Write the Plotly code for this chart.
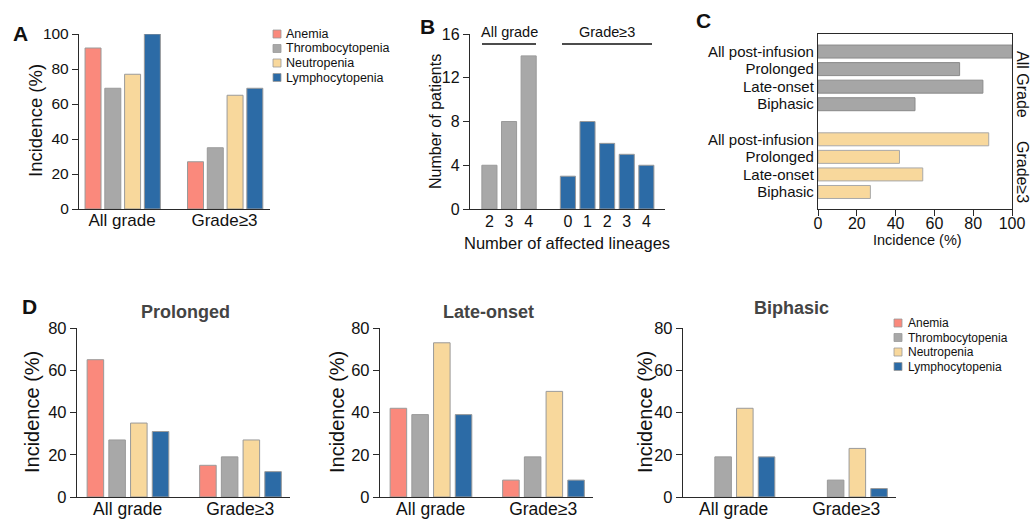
import plotly.graph_objects as go

# ---------------- data ----------------
cytopenias = ["Anemia", "Thrombocytopenia", "Neutropenia", "Lymphocytopenia"]
colors = ["#FA897C", "#A8A8A8", "#F8D89C", "#2C6BA6"]
grades = ["All grade", "Grade≥3"]

# Panel A: incidence (%) per cytopenia, [All grade, Grade>=3]
a_anemia = [92, 27]
a_thrombo = [69, 35]
a_neutro = [77, 65]
a_lympho = [100, 69]

# Panel B: number of patients by number of affected lineages
b_all_lineages = ["2", "3", "4"]
b_all_counts = [4, 8, 14]
b_g3_lineages = ["0", "1", "2", "3", "4"]
b_g3_counts = [3, 8, 6, 5, 4]

# Panel C: incidence (%) by pattern
c_labels = ["All post-infusion", "Prolonged", "Late-onset", "Biphasic"]
c_all = [100, 73, 85, 50]
c_g3 = [88, 42, 54, 27]

# Panel D: incidence (%) per pattern, [All grade, Grade>=3]
d_titles = ["Prolonged", "Late-onset", "Biphasic"]
d_prolonged = {"Anemia": [65, 15], "Thrombocytopenia": [27, 19],
               "Neutropenia": [35, 27], "Lymphocytopenia": [31, 12]}
d_late = {"Anemia": [42, 8], "Thrombocytopenia": [39, 19],
          "Neutropenia": [73, 50], "Lymphocytopenia": [39, 8]}
d_biphasic = {"Anemia": [0, 0], "Thrombocytopenia": [19, 8],
              "Neutropenia": [42, 23], "Lymphocytopenia": [19, 4]}

# ---------------- layout helpers ----------------
W, H = 1033, 519
FONT = "Liberation Sans, Arial, sans-serif"
AX = "#2a2a2a"
EDGE = "#9a9a9a"


def fx(x):
    return x / W


def fy(y):
    return 1 - y / H


fig = go.Figure()

# ---------- Panel A ----------
a_vals = [a_anemia, a_thrombo, a_neutro, a_lympho]
for i, (name, vals) in enumerate(zip(cytopenias, a_vals)):
    fig.add_trace(go.Bar(x=grades, y=vals, name=name, marker_color=colors[i],
                         marker_line=dict(color=EDGE, width=1),
                         width=0.156, offset=-0.361 + 0.193 * i,
                         xaxis="x", yaxis="y", showlegend=False))

# ---------- Panel B ----------
b_pos_all = list(range(len(b_all_lineages)))
b_pos_g3 = [len(b_all_lineages) + 1 + i for i in range(len(b_g3_lineages))]
fig.add_trace(go.Bar(x=b_pos_all, y=b_all_counts, marker_color=colors[1],
                     marker_line=dict(color=EDGE, width=1), width=0.77,
                     xaxis="x2", yaxis="y2", showlegend=False))
fig.add_trace(go.Bar(x=b_pos_g3, y=b_g3_counts, marker_color=colors[3],
                     marker_line=dict(color=EDGE, width=1), width=0.77,
                     xaxis="x2", yaxis="y2", showlegend=False))

# ---------- Panel C ----------
c_pos_all = list(range(len(c_labels)))
c_pos_g3 = [len(c_labels) + 1 + i for i in range(len(c_labels))]
fig.add_trace(go.Bar(y=c_pos_all, x=c_all, orientation="h", marker_color="#A6A6A6",
                     marker_line=dict(color="#8a8a8a", width=1), width=0.74,
                     xaxis="x3", yaxis="y3", showlegend=False))
fig.add_trace(go.Bar(y=c_pos_g3, x=c_g3, orientation="h", marker_color=colors[2],
                     marker_line=dict(color="#a8a8a8", width=1), width=0.74,
                     xaxis="x3", yaxis="y3", showlegend=False))

# ---------- Panel D ----------
d_sets = [d_prolonged, d_late, d_biphasic]
for k, dset in enumerate(d_sets):
    for i, name in enumerate(cytopenias):
        vals = dset[name]
        fig.add_trace(go.Bar(x=grades, y=vals, name=name, marker_color=colors[i],
                             marker_line=dict(color=EDGE, width=1 if max(vals) > 0 else 0),
                             width=0.147, offset=-0.36 + 0.193 * i,
                             xaxis="x%d" % (4 + k), yaxis="y%d" % (4 + k),
                             showlegend=False))

# ---------------- axes ----------------
base_line = dict(showline=True, linecolor=AX, linewidth=1.3, showgrid=False,
                 zeroline=False, automargin=False, fixedrange=True)
tickf = lambda s: dict(family=FONT, size=s, color="#111")

layout = dict(
    width=W, height=H, autosize=False,
    margin=dict(l=0, r=0, t=0, b=0, pad=0, autoexpand=False),
    paper_bgcolor="white", plot_bgcolor="white",
    barmode="overlay", font=dict(family=FONT, color="#111"),
    showlegend=False,
)

# A
layout["xaxis"] = dict(base_line, domain=[fx(79), fx(270)], anchor="y",
                       type="category", range=[-0.42, 1.444], ticks="",
                       tickfont=tickf(17), ticklabelstandoff=-5)
layout["yaxis"] = dict(base_line, domain=[fy(209), fy(34)], anchor="x",
                       range=[0, 100], tickvals=[0, 20, 40, 60, 80, 100],
                       ticks="outside", ticklen=6, tickwidth=1.2, tickcolor=AX,
                       tickfont=tickf(15.5))
# B
layout["xaxis2"] = dict(base_line, domain=[fx(470), fx(665)], anchor="y2",
                        range=[-0.99, 8.95], tickvals=b_pos_all + b_pos_g3,
                        ticktext=b_all_lineages + b_g3_lineages, ticks="",
                        tickfont=tickf(16), ticklabelstandoff=-2)
layout["yaxis2"] = dict(base_line, domain=[fy(209), fy(34)], anchor="x2",
                        range=[0, 16], tickvals=[0, 4, 8, 12, 16],
                        ticks="outside", ticklen=6, tickwidth=1.2, tickcolor=AX,
                        tickfont=tickf(16))
# C
layout["xaxis3"] = dict(base_line, domain=[fx(818), fx(1012)], anchor="y3",
                        range=[0, 100], tickvals=[0, 20, 40, 60, 80, 100],
                        ticks="outside", ticklen=6, tickwidth=1.2, tickcolor=AX,
                        mirror=True, tickfont=tickf(16), ticklabelstandoff=-6)
layout["yaxis3"] = dict(base_line, domain=[fy(209), fy(34)], anchor="x3",
                        range=[len(c_pos_all) + len(c_pos_g3) + 0.97, -1],
                        tickvals=c_pos_all + c_pos_g3, ticktext=c_labels + c_labels,
                        ticks="", mirror=True, tickfont=tickf(15))
# D
d_dom = [(77, 290), (380, 593), (683, 896)]
for k, (x0, x1) in enumerate(d_dom):
    n = 4 + k
    layout["xaxis%d" % n] = dict(base_line, domain=[fx(x0), fx(x1)], anchor="y%d" % n,
                                 type="category", range=[-0.45, 1.443], ticks="",
                                 tickfont=tickf(17.5), ticklabelstandoff=-4)
    layout["yaxis%d" % n] = dict(base_line, domain=[fy(497), fy(328)], anchor="x%d" % n,
                                 range=[0, 80], tickvals=[0, 20, 40, 60, 80],
                                 ticks="outside", ticklen=6, tickwidth=1.2,
                                 tickcolor=AX, tickfont=tickf(16.5))

fig.update_layout(**layout)

# ---------------- annotations & shapes ----------------
ann = []
shapes = []


def text(x, y, s, size, angle=0, color="#111", xanchor="center"):
    ann.append(dict(x=fx(x), y=fy(y), xref="paper", yref="paper", text=s,
                    showarrow=False, textangle=angle, xanchor=xanchor, yanchor="middle",
                    font=dict(family=FONT, size=size, color=color)))


# panel letters
text(20, 33, "<b>A</b>", 21)
text(427, 26, "<b>B</b>", 21)
text(703, 20, "<b>C</b>", 21)
text(29, 306, "<b>D</b>", 21)

# axis titles
text(35, 121, "Incidence (%)", 18.5, angle=-90)
text(435, 122, "Number of patients", 16, angle=-90)
text(567, 243, "Number of affected lineages", 16.5)
text(917, 240, "Incidence (%)", 14.5)
for xt in (32, 337, 645):
    text(xt, 412, "Incidence (%)", 20, angle=-90)

# B group labels with lines
text(509, 32, grades[0], 14.5)
text(607, 32, grades[1], 14.5)
for x0, x1 in ((482, 536), (562, 652)):
    shapes.append(dict(type="line", xref="paper", yref="paper", x0=fx(x0), x1=fx(x1),
                       y0=fy(44), y1=fy(44), line=dict(color="#111", width=1.3)))

# C side labels
text(1023, 84, "All Grade", 16, angle=90)
text(1023, 172, "Grade≥3", 16, angle=90)

# D titles
for (x0, x1), t, yy in zip(d_dom, d_titles, (312, 312, 308)):
    text((x0 + x1) / 2 + 2, yy, "<b>" + t + "</b>", 18, color="#444")


# custom legends
def legend(xsq, xtxt, ys, size):
    for name, col, yy in zip(cytopenias, colors, ys):
        shapes.append(dict(type="rect", xref="paper", yref="paper",
                           x0=fx(xsq), x1=fx(xsq + 8), y0=fy(yy + 4), y1=fy(yy - 4),
                           fillcolor=col, line=dict(color=EDGE, width=0.8)))
        text(xtxt, yy, name, size, xanchor="left")


legend(273, 284, [34, 48.5, 63, 77.5], 12.5)
legend(894, 906, [323, 337.5, 352, 366.5], 12)

fig.update_layout(annotations=ann, shapes=shapes)
fig.write_html("out.html", config={"displayModeBar": False},
               post_script="document.body.style.margin='0';document.body.style.overflow='hidden';")
